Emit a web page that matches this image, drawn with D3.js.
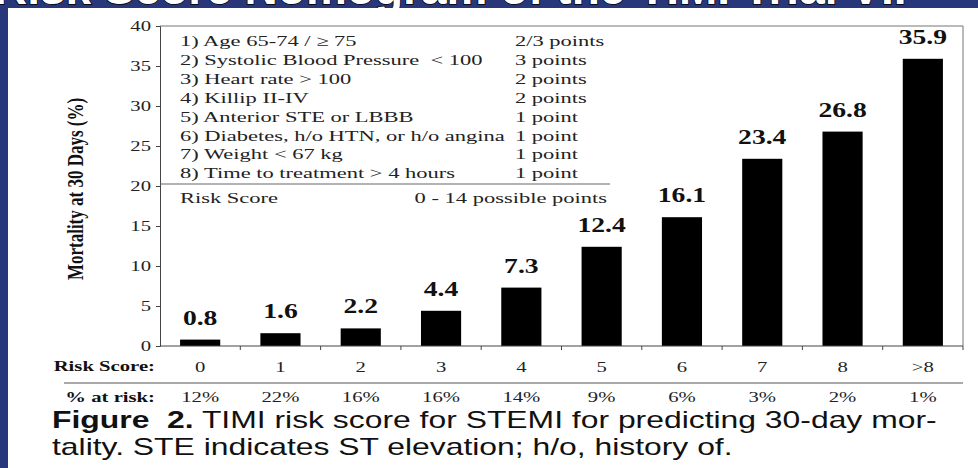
<!DOCTYPE html>
<html>
<head>
<meta charset="utf-8">
<script src="https://cdn.jsdelivr.net/npm/d3@7"></script>
<style>
  html, body { margin: 0; padding: 0; background: #fff; }
  svg { display: block; }
</style>
</head>
<body>
<div id="chart"></div>
<script>
// values
const riskScores = ['0', '1', '2', '3', '4', '5', '6', '7', '8', '>8'];
const mortality = [0.8, 1.6, 2.2, 4.4, 7.3, 12.4, 16.1, 23.4, 26.8, 35.9];
const atRisk = ['12%', '22%', '16%', '16%', '14%', '9%', '6%', '3%', '2%', '1%'];
const yTicks = [0, 5, 10, 15, 20, 25, 30, 35, 40];
const criteria = [
    '1) Age 65-74 / \u2265 75',
    '2) Systolic Blood Pressure  < 100',
    '3) Heart rate > 100',
    '4) Killip II-IV',
    '5) Anterior STE or LBBB',
    '6) Diabetes, h/o HTN, or h/o angina',
    '7) Weight < 67 kg',
    '8) Time to treatment > 4 hours'
];
const criteriaPoints = ['2/3 points', '3 points', '2 points', '2 points', '1 point', '1 point', '1 point', '1 point'];
const captionLines = [
    ['Figure  2.', ' TIMI risk score for STEMI for predicting 30-day mor-'],
    ['', 'tality. STE indicates ST elevation; h/o, history of.']
];

const W = 978, H = 468;
const serif = '"Liberation Serif", "Times New Roman", serif';
const sans = '"Liberation Sans", Arial, sans-serif';
const SX = 1.38; // the scanned figure is stretched sideways

var svg = d3.select('#chart').append('svg')
    .attr('width', W)
    .attr('height', H);

// slide background strips
svg.append('rect').attr('width', W).attr('height', H).attr('fill', '#28367a');
svg.append('rect').attr('x', 8).attr('y', 8).attr('width', W - 8).attr('height', H - 8).attr('fill', '#fff');

// slide title, mostly cut off above the figure
svg.append('clipPath').attr('id', 'titleClip')
    .append('rect').attr('width', W).attr('height', 8);
svg.append('text')
    .attr('clip-path', 'url(#titleClip)')
    .attr('x', -6).attr('y', 4)
    .attr('font-family', sans).attr('font-weight', 'bold').attr('font-size', 46)
    .attr('fill', '#fff').attr('stroke', '#000').attr('stroke-width', 1.5)
    .attr('paint-order', 'stroke')
    .text('Risk Score Nomogram of the TIMI Trial VII');

function stretch(sel, sx) {
    sel.each(function() {
        var t = d3.select(this);
        var x = +t.attr('x') || 0, y = +t.attr('y') || 0;
        t.attr('x', 0).attr('y', 0)
            .attr('transform', 'translate(' + x + ',' + y + ') scale(' + sx + ',1)');
    });
}

var x = d3.scaleBand()
    .domain(riskScores)
    .range([160, 963])
    .paddingInner(0.5)
    .paddingOuter(0.25);

var y = d3.scaleLinear()
    .domain([0, 40])
    .range([346, 26]);

// frame
svg.append('path')
    .attr('d', 'M160,' + y(40) + 'H963V' + y(0))
    .attr('fill', 'none').attr('stroke', '#777').attr('stroke-width', 1);

// y axis
var yAxis = svg.append('g')
    .attr('transform', 'translate(160,0)')
    .call(d3.axisLeft(y).tickValues(yTicks).tickSize(4).tickPadding(8));
yAxis.select('.domain').attr('stroke', '#444');
yAxis.selectAll('.tick line').attr('stroke', '#444');
yAxis.selectAll('.tick text')
    .attr('font-family', serif).attr('font-size', 15).attr('fill', '#222');
stretch(yAxis.selectAll('.tick text').attr('x', -9), SX);

svg.append('text')
    .attr('transform', 'translate(83,189) scale(1.3,1) rotate(-90)')
    .attr('text-anchor', 'middle')
    .attr('font-family', serif).attr('font-weight', 'bold').attr('font-size', 17)
    .attr('fill', '#111')
    .text('Mortality at 30 Days (%)');

// bars
svg.selectAll('rect.bar')
    .data(mortality)
    .enter().append('rect')
    .attr('class', 'bar')
    .attr('x', (d, i) => x(riskScores[i]))
    .attr('y', d => y(d))
    .attr('width', x.bandwidth())
    .attr('height', d => y(0) - y(d))
    .attr('fill', '#000');

var valueLabels = svg.selectAll('text.val')
    .data(mortality)
    .enter().append('text')
    .attr('class', 'val')
    .attr('x', (d, i) => x(riskScores[i]) + x.bandwidth() / 2)
    .attr('y', d => y(d) - 15)
    .attr('text-anchor', 'middle')
    .attr('font-family', serif).attr('font-weight', 'bold').attr('font-size', 20)
    .attr('fill', '#111')
    .text(d => d.toFixed(1));
stretch(valueLabels, SX);

// x axis: risk score row
var xAxis = svg.append('g')
    .attr('transform', 'translate(0,' + y(0) + ')')
    .call(d3.axisBottom(x).tickSize(0).tickPadding(15));
xAxis.select('.domain').attr('stroke', '#444').attr('d', 'M160,0H963');
xAxis.selectAll('.tick text')
    .attr('font-family', serif).attr('font-size', 15).attr('fill', '#222');
stretch(xAxis.selectAll('.tick text'), SX);

// boundary ticks between categories
xAxis.selectAll('line.sep')
    .data(riskScores)
    .enter().append('line')
    .attr('class', 'sep')
    .attr('x1', d => x(d) + x.bandwidth() + x.step() * 0.25)
    .attr('x2', d => x(d) + x.bandwidth() + x.step() * 0.25)
    .attr('y1', 0).attr('y2', 4)
    .attr('stroke', '#444');

var rowLabels = svg.append('g');
rowLabels.append('text')
    .attr('x', 155).attr('y', 371)
    .attr('text-anchor', 'end')
    .attr('font-family', serif).attr('font-weight', 'bold').attr('font-size', 15)
    .attr('fill', '#111')
    .text('Risk Score:');
rowLabels.append('line')
    .attr('x1', 64).attr('x2', 963).attr('y1', 383).attr('y2', 383)
    .attr('stroke', '#555');
rowLabels.append('text')
    .attr('x', 155).attr('y', 402)
    .attr('text-anchor', 'end')
    .attr('font-family', serif).attr('font-weight', 'bold').attr('font-size', 15)
    .attr('fill', '#111')
    .text('% at risk:');
stretch(rowLabels.selectAll('text'), SX);

var pct = svg.selectAll('text.pct')
    .data(atRisk)
    .enter().append('text')
    .attr('class', 'pct')
    .attr('x', (d, i) => x(riskScores[i]) + x.bandwidth() / 2)
    .attr('y', 402)
    .attr('text-anchor', 'middle')
    .attr('font-family', serif).attr('font-size', 15)
    .attr('fill', '#222')
    .text(d => d);
stretch(pct, SX);

// criteria list inside the plot
var legend = svg.append('g');
legend.selectAll('text.crit')
    .data(criteria)
    .enter().append('text')
    .attr('class', 'crit')
    .attr('x', 180)
    .attr('y', (d, i) => 46 + i * 18.9)
    .attr('font-family', serif).attr('font-size', 15)
    .attr('fill', '#222')
    .attr('xml:space', 'preserve')
    .text(d => d);
legend.selectAll('text.pts')
    .data(criteriaPoints)
    .enter().append('text')
    .attr('class', 'pts')
    .attr('x', 515)
    .attr('y', (d, i) => 46 + i * 18.9)
    .attr('font-family', serif).attr('font-size', 15)
    .attr('fill', '#222')
    .text(d => d);
legend.append('line')
    .attr('x1', 160).attr('x2', 610).attr('y1', 184).attr('y2', 184)
    .attr('stroke', '#666');
legend.append('text')
    .attr('x', 180).attr('y', 203)
    .attr('font-family', serif).attr('font-size', 15)
    .attr('fill', '#222')
    .text('Risk Score');
legend.append('text')
    .attr('x', 607).attr('y', 203)
    .attr('text-anchor', 'end')
    .attr('font-family', serif).attr('font-size', 15)
    .attr('fill', '#222')
    .text('0 - 14 possible points');
stretch(legend.selectAll('text'), 1.5);

// caption
var caption = svg.append('g');
captionLines.forEach(function(parts, i) {
    var t = caption.append('text')
        .attr('x', 52).attr('y', 428 + i * 27)
        .attr('font-family', sans).attr('font-size', 23)
        .attr('fill', '#111')
        .attr('xml:space', 'preserve');
    if (parts[0]) t.append('tspan').attr('font-weight', 'bold').text(parts[0]);
    t.append('tspan').text(parts[1]);
});
var capW = caption.select('text').node().getComputedTextLength();
stretch(caption.selectAll('text'), 885 / capW);
</script>
</body>
</html>
